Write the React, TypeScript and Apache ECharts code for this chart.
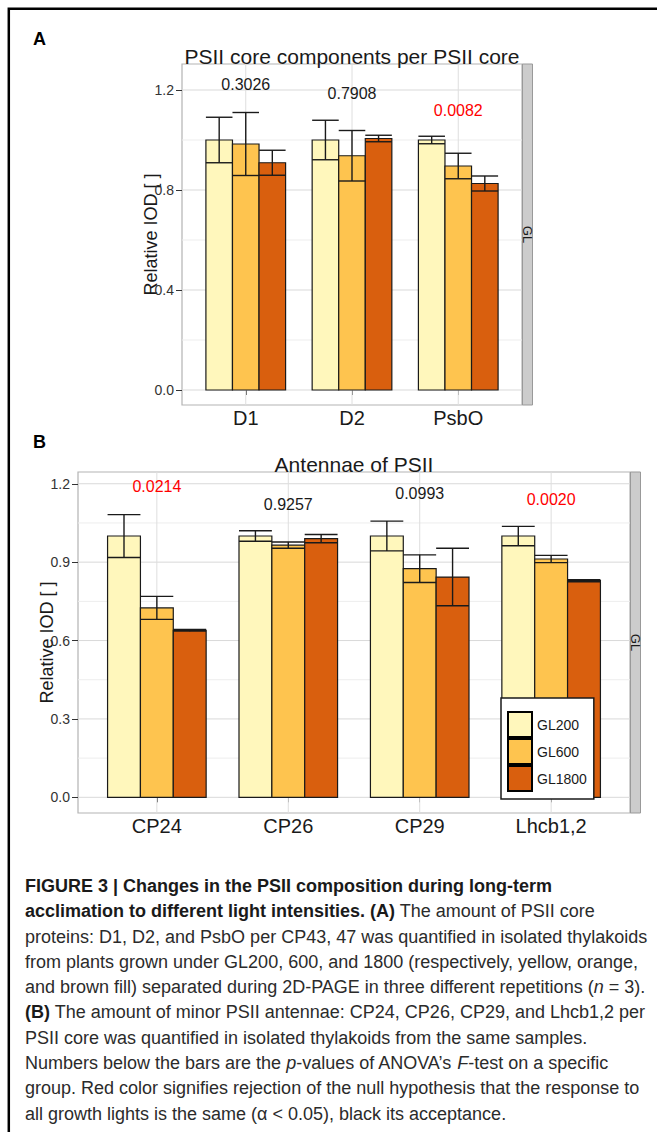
import React, { useEffect, useRef } from 'react';
import * as echarts from 'echarts';

const FONT = "'Liberation Sans', Arial, Helvetica, sans-serif";

// ---------- data ----------
const GROUPS = ['GL200', 'GL600', 'GL1800'];
const GROUP_COLORS = ['#FFF7BC', '#FEC44F', '#D95F0E'];

// Panel A: PSII core components per PSII core
const PROTEINS_A = ['D1', 'D2', 'PsbO'];
const MEAN_A_GL200 = [1.0, 1.0, 1.0];
const SD_A_GL200 = [0.091, 0.079, 0.015];
const MEAN_A_GL600 = [0.984, 0.937, 0.896];
const SD_A_GL600 = [0.126, 0.101, 0.051];
const MEAN_A_GL1800 = [0.909, 1.006, 0.826];
const SD_A_GL1800 = [0.05, 0.013, 0.03];
const P_A = ['0.3026', '0.7908', '0.0082'];
const Y_TICKS_A = [0, 0.4, 0.8, 1.2];
const Y_MINOR_A = [0.2, 0.6, 1.0];

// Panel B: Antennae of PSII
const PROTEINS_B = ['CP24', 'CP26', 'CP29', 'Lhcb1,2'];
const MEAN_B_GL200 = [1.0, 1.0, 1.0, 1.0];
const SD_B_GL200 = [0.082, 0.02, 0.057, 0.037];
const MEAN_B_GL600 = [0.725, 0.965, 0.875, 0.912];
const SD_B_GL600 = [0.044, 0.012, 0.053, 0.014];
const MEAN_B_GL1800 = [0.639, 0.99, 0.843, 0.829];
const SD_B_GL1800 = [0.003, 0.016, 0.11, 0.004];
const P_B = ['0.0214', '0.9257', '0.0993', '0.0020'];
const Y_TICKS_B = [0, 0.3, 0.6, 0.9, 1.2];
const Y_MINOR_B = [0.15, 0.45, 0.75, 1.05];

const CAPTION_LINES: [string, string][][] = [
  [['b', 'FIGURE 3 | Changes in the PSII composition during long-term']],
  [['b', 'acclimation to different light intensities. (A)'], ['r', ' The amount of PSII core']],
  [['r', 'proteins: D1, D2, and PsbO per CP43, 47 was quantified in isolated thylakoids']],
  [['r', 'from plants grown under GL200, 600, and 1800 (respectively, yellow, orange,']],
  [['r', 'and brown fill) separated during 2D-PAGE in three different repetitions ('], ['i', 'n'], ['r', ' = 3).']],
  [['b', '(B)'], ['r', ' The amount of minor PSII antennae: CP24, CP26, CP29, and Lhcb1,2 per']],
  [['r', 'PSII core was quantified in isolated thylakoids from the same samples.']],
  [['r', 'Numbers below the bars are the '], ['i', 'p'], ['r', '-values of ANOVA\u2019s '], ['i', 'F'], ['r', '-test on a specific']],
  [['r', 'group. Red color signifies rejection of the null hypothesis that the response to']],
  [['r', 'all growth lights is the same (\u03b1 < 0.05), black its acceptance.']],
];

const BAR_W = 0.25;
const INK = '#1a1a1a';

type Panel = {
  cats: string[];
  means: number[][];
  sds: number[][];
  pvals: string[];
  ticks: number[];
  minor: number[];
  yMin: number;
  yMax: number;
};

const PANELS: Panel[] = [
  {
    cats: PROTEINS_A,
    means: [MEAN_A_GL200, MEAN_A_GL600, MEAN_A_GL1800],
    sds: [SD_A_GL200, SD_A_GL600, SD_A_GL1800],
    pvals: P_A,
    ticks: Y_TICKS_A,
    minor: Y_MINOR_A,
    yMin: -0.06,
    yMax: 1.304,
  },
  {
    cats: PROTEINS_B,
    means: [MEAN_B_GL200, MEAN_B_GL600, MEAN_B_GL1800],
    sds: [SD_B_GL200, SD_B_GL600, SD_B_GL1800],
    pvals: P_B,
    ticks: Y_TICKS_B,
    minor: Y_MINOR_B,
    yMin: -0.06,
    yMax: 1.245,
  },
];

function buildSeries(p: Panel, idx: number): any[] {
  const series: any[] = [];
  const axes = { xAxisIndex: idx, yAxisIndex: idx };
  // grid lines (kind 0 minor horizontal, 1 major horizontal, 2 vertical)
  const gridData: number[][] = [
    ...p.minor.map((v) => [0, v]),
    ...p.ticks.map((v) => [1, v]),
    ...p.cats.map((_, i) => [2, i + 1]),
  ];
  series.push({
    type: 'custom',
    ...axes,
    z: 1,
    silent: true,
    data: gridData,
    encode: { x: -1, y: -1 },
    renderItem: (params: any, api: any) => {
      const kind = api.value(0);
      const v = api.value(1);
      const cs = params.coordSys;
      if (kind === 2) {
        const pt = api.coord([v, 0]);
        return {
          type: 'line',
          shape: { x1: pt[0], y1: cs.y, x2: pt[0], y2: cs.y + cs.height },
          style: { stroke: '#DEDEDE', lineWidth: 1 },
        };
      }
      const pt = api.coord([1, v]);
      return {
        type: 'line',
        shape: { x1: cs.x, y1: pt[1], x2: cs.x + cs.width, y2: pt[1] },
        style: { stroke: kind === 1 ? '#D9D9D9' : '#EDEDED', lineWidth: 1 },
      };
    },
  });
  // bars
  GROUPS.forEach((g, gi) => {
    series.push({
      type: 'custom',
      name: g,
      ...axes,
      z: 2,
      itemStyle: { color: GROUP_COLORS[gi], borderColor: INK, borderWidth: 1.2 },
      encode: { x: 0, y: 1 },
      data: p.cats.map((_, i) => [i + 1, p.means[gi][i]]),
      renderItem: (params: any, api: any) => {
        const xc = api.value(0) + (gi - 1) * BAR_W;
        const p0 = api.coord([xc - BAR_W / 2, 0]);
        const p1 = api.coord([xc + BAR_W / 2, api.value(1)]);
        return {
          type: 'rect',
          shape: { x: p0[0], y: p1[1], width: p1[0] - p0[0], height: p0[1] - p1[1] },
          style: { fill: GROUP_COLORS[gi], stroke: INK, lineWidth: 1.2 },
        };
      },
    });
  });
  // error bars
  const errData: number[][] = [];
  GROUPS.forEach((_, gi) => {
    p.cats.forEach((__, i) => errData.push([i + 1, p.means[gi][i], p.sds[gi][i], gi]));
  });
  series.push({
    type: 'custom',
    ...axes,
    z: 3,
    silent: true,
    encode: { x: 0, y: 1 },
    data: errData,
    renderItem: (params: any, api: any) => {
      const m = api.value(1);
      const s = api.value(2);
      const xc = api.value(0) + (api.value(3) - 1) * BAR_W;
      const lo = api.coord([xc - BAR_W / 2, m - s]);
      const hi = api.coord([xc + BAR_W / 2, m + s]);
      const mid = api.coord([xc, m]);
      const style = { stroke: INK, lineWidth: 1.4 };
      return {
        type: 'group',
        children: [
          { type: 'line', shape: { x1: mid[0], y1: lo[1], x2: mid[0], y2: hi[1] }, style },
          { type: 'line', shape: { x1: lo[0], y1: hi[1], x2: hi[0], y2: hi[1] }, style },
          { type: 'line', shape: { x1: lo[0], y1: lo[1], x2: hi[0], y2: lo[1] }, style },
        ],
      };
    },
  });
  // p-values
  const labelData = p.cats.map((_, i) => {
    const top = Math.max(...GROUPS.map((__, gi) => p.means[gi][i] + p.sds[gi][i]));
    return [i + 1, top * 1.1];
  });
  series.push({
    type: 'custom',
    ...axes,
    z: 4,
    silent: true,
    encode: { x: 0, y: 1 },
    data: labelData,
    renderItem: (params: any, api: any) => {
      const pt = api.coord([api.value(0), api.value(1)]);
      const txt = p.pvals[params.dataIndex];
      return {
        type: 'text',
        x: pt[0],
        y: pt[1],
        style: {
          text: txt,
          fill: parseFloat(txt) < 0.05 ? '#FF0000' : INK,
          fontSize: 16,
          fontFamily: FONT,
          align: 'center',
          verticalAlign: 'middle',
        },
      };
    },
  });
  return series;
}

const GRIDS = [
  { left: 182, top: 64, width: 340, height: 341 },
  { left: 78, top: 472, width: 552, height: 341 },
];

function buildOption(): any {
  const grid = GRIDS.map((g) => ({
    ...g,
    show: true,
    backgroundColor: '#ffffff',
    borderColor: '#B3B3B3',
    borderWidth: 1.2,
  }));
  const xAxis = PANELS.map((p, i) => {
    const vals = p.cats.map((_, k) => k + 1);
    return {
      type: 'value',
      gridIndex: i,
      min: 0.4,
      max: p.cats.length + 0.6,
      axisLine: { show: false },
      splitLine: { show: false },
      axisTick: { show: true, customValues: vals, length: 5, lineStyle: { color: '#555' } },
      axisLabel: {
        customValues: vals,
        formatter: (v: number) => p.cats[Math.round(v) - 1] ?? '',
        fontSize: 20,
        color: INK,
        fontFamily: FONT,
        margin: 3,
      },
    };
  });
  const yAxis = PANELS.map((p, i) => ({
    type: 'value',
    gridIndex: i,
    min: p.yMin,
    max: p.yMax,
    axisLine: { show: false },
    splitLine: { show: false },
    axisTick: { show: true, customValues: p.ticks, length: 6, lineStyle: { color: '#333' } },
    axisLabel: {
      customValues: p.ticks,
      formatter: (v: number) => v.toFixed(1),
      fontSize: 14,
      color: '#333',
      fontFamily: FONT,
      margin: 8,
    },
    name: 'Relative IOD [ ]',
    nameLocation: 'middle',
    nameRotate: 90,
    nameGap: 22,
    nameMoveOverlap: false,
    nameTextStyle: { fontSize: 18, color: INK, fontFamily: FONT },
  }));

  const series = [...buildSeries(PANELS[0], 0), ...buildSeries(PANELS[1], 1)];

  const txt = (x: number, y: number, text: string, extra: any = {}, rotation = 0) => ({
    type: 'text',
    x,
    y,
    rotation,
    style: {
      text,
      fontFamily: FONT,
      fill: INK,
      align: 'center',
      verticalAlign: 'middle',
      ...extra,
    },
  });

  const strips = GRIDS.map((g) => ({
    type: 'rect',
    shape: { x: g.left + g.width + 0.5, y: g.top, width: 10, height: g.height },
    style: { fill: '#CCCCCC', stroke: '#999999', lineWidth: 1 },
  }));
  const stripTexts = GRIDS.map((g) =>
    txt(g.left + g.width + 5.5, g.top + g.height / 2, 'GL', { fontSize: 13 }, -Math.PI / 2)
  );

  const rich = {
    r: { fontSize: 18, fontFamily: FONT, fill: '#2b2b2b', color: '#2b2b2b' },
    b: { fontSize: 18, fontFamily: FONT, fontWeight: 'bold', fill: '#1a1a1a', color: '#1a1a1a' },
    i: { fontSize: 18, fontFamily: FONT, fontStyle: 'italic', fill: '#2b2b2b', color: '#2b2b2b' },
  };
  const caption = CAPTION_LINES.map((line, k) => ({
    type: 'text',
    x: 25,
    y: 886 + k * 25.28,
    style: {
      text: line.map(([s, t]) => `{${s}|${t}}`).join(''),
      rich,
      fontSize: 18,
      fontFamily: FONT,
      align: 'left',
      verticalAlign: 'middle',
    },
  }));

  return {
    animation: false,
    backgroundColor: '#ffffff',
    grid,
    xAxis,
    yAxis,
    series,
    legend: {
      orient: 'vertical',
      left: 501,
      top: 698,
      itemWidth: 24,
      itemHeight: 25,
      itemGap: 0,
      padding: [13, 7, 7, 6],
      backgroundColor: '#ffffff',
      borderColor: INK,
      borderWidth: 1.5,
      selectedMode: false,
      textStyle: { fontSize: 14, color: INK, fontFamily: FONT },
      data: GROUPS.map((g, gi) => ({
        name: g,
        icon: 'rect',
        itemStyle: { color: GROUP_COLORS[gi], borderColor: '#000', borderWidth: 2 },
      })),
    },
    graphic: {
      elements: [
        {
          type: 'polyline',
          shape: { points: [[8.8, 1140], [8.8, 8.8], [670, 8.8]] },
          style: { stroke: '#000', lineWidth: 2.5, fill: null },
        },
        txt(33, 39, 'A', { fontSize: 18, fontWeight: 'bold', align: 'left', fill: '#000' }),
        txt(33, 442, 'B', { fontSize: 18, fontWeight: 'bold', align: 'left', fill: '#000' }),
        txt(352, 56, 'PSII core components per PSII core', { fontSize: 21 }),
        txt(354, 464, 'Antennae of PSII', { fontSize: 21 }),
        ...strips,
        ...stripTexts,
        ...caption,
      ],
    },
  };
}

export default function App() {
  const ref = useRef<HTMLDivElement>(null);
  useEffect(() => {
    if (!ref.current) return;
    const chart = echarts.init(ref.current, undefined, { renderer: 'svg' });
    chart.setOption(buildOption());
    return () => chart.dispose();
  }, []);
  return (
    <div
      ref={ref}
      style={{ position: 'absolute', left: 0, top: 0, width: 657, height: 1132, background: '#fff' }}
    />
  );
}
